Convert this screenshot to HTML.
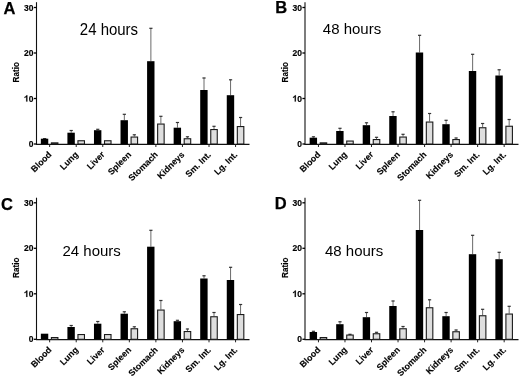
<!DOCTYPE html><html><head><meta charset="utf-8"><style>html,body{margin:0;padding:0;background:#fff;}svg{display:block;will-change:transform;}text{font-family:"Liberation Sans",sans-serif;}</style></head><body>
<svg width="520" height="376" viewBox="0 0 520 376">
<rect width="520" height="376" fill="#fff"/>
<text transform="translate(3.5,14.0) scale(1.0,1.0)" font-size="16.5" font-weight="bold" fill="#000" stroke="#000" stroke-width="0.25">A</text>
<text transform="translate(79.8,35.3) scale(1,1.06)" font-size="15" fill="#000">24 hours</text>
<text transform="translate(19.2,72.3) rotate(-90) scale(1,1.15)" text-anchor="middle" font-size="8.1" font-weight="bold" fill="#000" stroke="#000" stroke-width="0.15">Ratio</text>
<line x1="36.5" y1="2.2" x2="36.5" y2="144.5" stroke="#111" stroke-width="1.1"/>
<line x1="33.9" y1="144.00" x2="36.5" y2="144.00" stroke="#000" stroke-width="1.3"/>
<g transform="translate(33.50,147.10) scale(1.04,1.08)"><text text-anchor="end" font-size="8.2" font-weight="bold" fill="#000" stroke="#000" stroke-width="0.15">0</text></g>
<line x1="33.9" y1="98.50" x2="36.5" y2="98.50" stroke="#000" stroke-width="1.3"/>
<g transform="translate(33.50,101.60) scale(1.04,1.08)"><text text-anchor="end" font-size="8.2" font-weight="bold" fill="#000" stroke="#000" stroke-width="0.15">0</text><path transform="translate(-9.12,0) scale(0.0082,-0.0082)" d="M 394 0 L 394 716 L 287 716 C 265 650 220 610 160 575 C 120 552 85 540 55 532 L 55 412 C 140 440 205 478 257 525 L 257 0 Z" fill="#000" stroke="#000" stroke-width="18"/></g>
<line x1="33.9" y1="53.00" x2="36.5" y2="53.00" stroke="#000" stroke-width="1.3"/>
<g transform="translate(33.50,56.10) scale(1.04,1.08)"><text text-anchor="end" font-size="8.2" font-weight="bold" fill="#000" stroke="#000" stroke-width="0.15">20</text></g>
<line x1="33.9" y1="7.50" x2="36.5" y2="7.50" stroke="#000" stroke-width="1.3"/>
<g transform="translate(33.50,10.60) scale(1.04,1.08)"><text text-anchor="end" font-size="8.2" font-weight="bold" fill="#000" stroke="#000" stroke-width="0.15">30</text></g>
<line x1="35.9" y1="144.3" x2="249.5" y2="144.3" stroke="#111" stroke-width="1.2"/>
<line x1="49.65" y1="144.0" x2="49.65" y2="147.0" stroke="#222" stroke-width="1"/>
<line x1="44.65" y1="138.30" x2="44.65" y2="138.70" stroke="#6a6a6a" stroke-width="1.0"/>
<line x1="43.05" y1="138.60" x2="46.25" y2="138.60" stroke="#333" stroke-width="1.2"/>
<rect x="40.85" y="138.70" width="7.4" height="5.30" fill="#000"/>
<rect x="51.40" y="142.85" width="6.5" height="1.15" fill="#dedede" stroke="#1a1a1a" stroke-width="1.1"/>
<text transform="translate(52.15,155.20) rotate(-45)" text-anchor="end" font-size="8.8" font-weight="bold" fill="#000" stroke="#000" stroke-width="0.12">Blood</text>
<line x1="76.21" y1="144.0" x2="76.21" y2="147.0" stroke="#222" stroke-width="1"/>
<line x1="71.21" y1="130.20" x2="71.21" y2="132.70" stroke="#6a6a6a" stroke-width="1.0"/>
<line x1="69.61" y1="130.50" x2="72.81" y2="130.50" stroke="#333" stroke-width="1.2"/>
<rect x="67.41" y="132.70" width="7.4" height="11.30" fill="#000"/>
<rect x="77.96" y="140.75" width="6.5" height="3.25" fill="#dedede" stroke="#1a1a1a" stroke-width="1.1"/>
<text transform="translate(78.71,155.20) rotate(-45)" text-anchor="end" font-size="8.8" font-weight="bold" fill="#000" stroke="#000" stroke-width="0.12">Lung</text>
<line x1="102.77" y1="144.0" x2="102.77" y2="147.0" stroke="#222" stroke-width="1"/>
<line x1="97.77" y1="129.00" x2="97.77" y2="130.20" stroke="#6a6a6a" stroke-width="1.0"/>
<line x1="96.17" y1="129.30" x2="99.37" y2="129.30" stroke="#333" stroke-width="1.2"/>
<rect x="93.97" y="130.20" width="7.4" height="13.80" fill="#000"/>
<rect x="104.52" y="140.75" width="6.5" height="3.25" fill="#dedede" stroke="#1a1a1a" stroke-width="1.1"/>
<text transform="translate(105.27,155.20) rotate(-45)" text-anchor="end" font-size="8.8" font-weight="bold" fill="#000" stroke="#000" stroke-width="0.12">Liver</text>
<line x1="129.33" y1="144.0" x2="129.33" y2="147.0" stroke="#222" stroke-width="1"/>
<line x1="124.33" y1="114.00" x2="124.33" y2="120.20" stroke="#6a6a6a" stroke-width="1.0"/>
<line x1="122.73" y1="114.30" x2="125.93" y2="114.30" stroke="#333" stroke-width="1.2"/>
<line x1="134.33" y1="134.50" x2="134.33" y2="136.50" stroke="#6a6a6a" stroke-width="1.0"/>
<line x1="132.73" y1="134.80" x2="135.93" y2="134.80" stroke="#333" stroke-width="1.2"/>
<rect x="120.53" y="120.20" width="7.4" height="23.80" fill="#000"/>
<rect x="131.08" y="137.05" width="6.5" height="6.95" fill="#dedede" stroke="#1a1a1a" stroke-width="1.1"/>
<text transform="translate(131.83,155.20) rotate(-45)" text-anchor="end" font-size="8.8" font-weight="bold" fill="#000" stroke="#000" stroke-width="0.12">Spleen</text>
<line x1="155.89" y1="144.0" x2="155.89" y2="147.0" stroke="#222" stroke-width="1"/>
<line x1="150.89" y1="28.00" x2="150.89" y2="61.20" stroke="#6a6a6a" stroke-width="1.0"/>
<line x1="149.29" y1="28.30" x2="152.49" y2="28.30" stroke="#333" stroke-width="1.2"/>
<line x1="160.89" y1="116.00" x2="160.89" y2="123.50" stroke="#6a6a6a" stroke-width="1.0"/>
<line x1="159.29" y1="116.30" x2="162.49" y2="116.30" stroke="#333" stroke-width="1.2"/>
<rect x="147.09" y="61.20" width="7.4" height="82.80" fill="#000"/>
<rect x="157.64" y="124.05" width="6.5" height="19.95" fill="#dedede" stroke="#1a1a1a" stroke-width="1.1"/>
<text transform="translate(158.39,155.20) rotate(-45)" text-anchor="end" font-size="8.8" font-weight="bold" fill="#000" stroke="#000" stroke-width="0.12">Stomach</text>
<line x1="182.45" y1="144.0" x2="182.45" y2="147.0" stroke="#222" stroke-width="1"/>
<line x1="177.45" y1="122.20" x2="177.45" y2="127.70" stroke="#6a6a6a" stroke-width="1.0"/>
<line x1="175.85" y1="122.50" x2="179.05" y2="122.50" stroke="#333" stroke-width="1.2"/>
<line x1="187.45" y1="136.50" x2="187.45" y2="138.20" stroke="#6a6a6a" stroke-width="1.0"/>
<line x1="185.85" y1="136.80" x2="189.05" y2="136.80" stroke="#333" stroke-width="1.2"/>
<rect x="173.65" y="127.70" width="7.4" height="16.30" fill="#000"/>
<rect x="184.20" y="138.75" width="6.5" height="5.25" fill="#dedede" stroke="#1a1a1a" stroke-width="1.1"/>
<text transform="translate(184.95,155.20) rotate(-45)" text-anchor="end" font-size="8.8" font-weight="bold" fill="#000" stroke="#000" stroke-width="0.12">Kidneys</text>
<line x1="209.01" y1="144.0" x2="209.01" y2="147.0" stroke="#222" stroke-width="1"/>
<line x1="204.01" y1="77.70" x2="204.01" y2="90.00" stroke="#6a6a6a" stroke-width="1.0"/>
<line x1="202.41" y1="78.00" x2="205.61" y2="78.00" stroke="#333" stroke-width="1.2"/>
<line x1="214.01" y1="126.00" x2="214.01" y2="129.00" stroke="#6a6a6a" stroke-width="1.0"/>
<line x1="212.41" y1="126.30" x2="215.61" y2="126.30" stroke="#333" stroke-width="1.2"/>
<rect x="200.21" y="90.00" width="7.4" height="54.00" fill="#000"/>
<rect x="210.76" y="129.55" width="6.5" height="14.45" fill="#dedede" stroke="#1a1a1a" stroke-width="1.1"/>
<text transform="translate(211.51,155.20) rotate(-45)" text-anchor="end" font-size="8.8" font-weight="bold" fill="#000" stroke="#000" stroke-width="0.12">Sm. Int.</text>
<line x1="235.57" y1="144.0" x2="235.57" y2="147.0" stroke="#222" stroke-width="1"/>
<line x1="230.57" y1="79.50" x2="230.57" y2="95.20" stroke="#6a6a6a" stroke-width="1.0"/>
<line x1="228.97" y1="79.80" x2="232.17" y2="79.80" stroke="#333" stroke-width="1.2"/>
<line x1="240.57" y1="117.20" x2="240.57" y2="126.00" stroke="#6a6a6a" stroke-width="1.0"/>
<line x1="238.97" y1="117.50" x2="242.17" y2="117.50" stroke="#333" stroke-width="1.2"/>
<rect x="226.77" y="95.20" width="7.4" height="48.80" fill="#000"/>
<rect x="237.32" y="126.55" width="6.5" height="17.45" fill="#dedede" stroke="#1a1a1a" stroke-width="1.1"/>
<text transform="translate(238.07,155.20) rotate(-45)" text-anchor="end" font-size="8.8" font-weight="bold" fill="#000" stroke="#000" stroke-width="0.12">Lg. Int.</text>
<text transform="translate(275.2,13.3) scale(1.0,1.0)" font-size="16.5" font-weight="bold" fill="#000" stroke="#000" stroke-width="0.25">B</text>
<text transform="translate(322.8,33.9) scale(1,1.02)" font-size="15" fill="#000">48 hours</text>
<text transform="translate(288.2,72.3) rotate(-90) scale(1,1.15)" text-anchor="middle" font-size="8.1" font-weight="bold" fill="#000" stroke="#000" stroke-width="0.15">Ratio</text>
<line x1="305.0" y1="2.2" x2="305.0" y2="144.5" stroke="#111" stroke-width="1.1"/>
<line x1="302.4" y1="144.00" x2="305.0" y2="144.00" stroke="#000" stroke-width="1.3"/>
<g transform="translate(302.00,147.10) scale(1.04,1.08)"><text text-anchor="end" font-size="8.2" font-weight="bold" fill="#000" stroke="#000" stroke-width="0.15">0</text></g>
<line x1="302.4" y1="98.50" x2="305.0" y2="98.50" stroke="#000" stroke-width="1.3"/>
<g transform="translate(302.00,101.60) scale(1.04,1.08)"><text text-anchor="end" font-size="8.2" font-weight="bold" fill="#000" stroke="#000" stroke-width="0.15">0</text><path transform="translate(-9.12,0) scale(0.0082,-0.0082)" d="M 394 0 L 394 716 L 287 716 C 265 650 220 610 160 575 C 120 552 85 540 55 532 L 55 412 C 140 440 205 478 257 525 L 257 0 Z" fill="#000" stroke="#000" stroke-width="18"/></g>
<line x1="302.4" y1="53.00" x2="305.0" y2="53.00" stroke="#000" stroke-width="1.3"/>
<g transform="translate(302.00,56.10) scale(1.04,1.08)"><text text-anchor="end" font-size="8.2" font-weight="bold" fill="#000" stroke="#000" stroke-width="0.15">20</text></g>
<line x1="302.4" y1="7.50" x2="305.0" y2="7.50" stroke="#000" stroke-width="1.3"/>
<g transform="translate(302.00,10.60) scale(1.04,1.08)"><text text-anchor="end" font-size="8.2" font-weight="bold" fill="#000" stroke="#000" stroke-width="0.15">30</text></g>
<line x1="304.4" y1="144.3" x2="518.5" y2="144.3" stroke="#111" stroke-width="1.2"/>
<line x1="318.45" y1="144.0" x2="318.45" y2="147.0" stroke="#222" stroke-width="1"/>
<line x1="313.45" y1="136.50" x2="313.45" y2="137.70" stroke="#6a6a6a" stroke-width="1.0"/>
<line x1="311.85" y1="136.80" x2="315.05" y2="136.80" stroke="#333" stroke-width="1.2"/>
<rect x="309.65" y="137.70" width="7.4" height="6.30" fill="#000"/>
<rect x="320.20" y="142.85" width="6.5" height="1.15" fill="#dedede" stroke="#1a1a1a" stroke-width="1.1"/>
<text transform="translate(320.95,155.20) rotate(-45)" text-anchor="end" font-size="8.8" font-weight="bold" fill="#000" stroke="#000" stroke-width="0.12">Blood</text>
<line x1="344.98" y1="144.0" x2="344.98" y2="147.0" stroke="#222" stroke-width="1"/>
<line x1="339.98" y1="128.00" x2="339.98" y2="131.00" stroke="#6a6a6a" stroke-width="1.0"/>
<line x1="338.38" y1="128.30" x2="341.58" y2="128.30" stroke="#333" stroke-width="1.2"/>
<rect x="336.18" y="131.00" width="7.4" height="13.00" fill="#000"/>
<rect x="346.73" y="141.05" width="6.5" height="2.95" fill="#dedede" stroke="#1a1a1a" stroke-width="1.1"/>
<text transform="translate(347.48,155.20) rotate(-45)" text-anchor="end" font-size="8.8" font-weight="bold" fill="#000" stroke="#000" stroke-width="0.12">Lung</text>
<line x1="371.51" y1="144.0" x2="371.51" y2="147.0" stroke="#222" stroke-width="1"/>
<line x1="366.51" y1="122.50" x2="366.51" y2="125.20" stroke="#6a6a6a" stroke-width="1.0"/>
<line x1="364.91" y1="122.80" x2="368.11" y2="122.80" stroke="#333" stroke-width="1.2"/>
<line x1="376.51" y1="137.00" x2="376.51" y2="139.00" stroke="#6a6a6a" stroke-width="1.0"/>
<line x1="374.91" y1="137.30" x2="378.11" y2="137.30" stroke="#333" stroke-width="1.2"/>
<rect x="362.71" y="125.20" width="7.4" height="18.80" fill="#000"/>
<rect x="373.26" y="139.55" width="6.5" height="4.45" fill="#dedede" stroke="#1a1a1a" stroke-width="1.1"/>
<text transform="translate(374.01,155.20) rotate(-45)" text-anchor="end" font-size="8.8" font-weight="bold" fill="#000" stroke="#000" stroke-width="0.12">Liver</text>
<line x1="398.04" y1="144.0" x2="398.04" y2="147.0" stroke="#222" stroke-width="1"/>
<line x1="393.04" y1="111.50" x2="393.04" y2="116.00" stroke="#6a6a6a" stroke-width="1.0"/>
<line x1="391.44" y1="111.80" x2="394.64" y2="111.80" stroke="#333" stroke-width="1.2"/>
<line x1="403.04" y1="134.00" x2="403.04" y2="136.50" stroke="#6a6a6a" stroke-width="1.0"/>
<line x1="401.44" y1="134.30" x2="404.64" y2="134.30" stroke="#333" stroke-width="1.2"/>
<rect x="389.24" y="116.00" width="7.4" height="28.00" fill="#000"/>
<rect x="399.79" y="137.05" width="6.5" height="6.95" fill="#dedede" stroke="#1a1a1a" stroke-width="1.1"/>
<text transform="translate(400.54,155.20) rotate(-45)" text-anchor="end" font-size="8.8" font-weight="bold" fill="#000" stroke="#000" stroke-width="0.12">Spleen</text>
<line x1="424.57" y1="144.0" x2="424.57" y2="147.0" stroke="#222" stroke-width="1"/>
<line x1="419.57" y1="35.00" x2="419.57" y2="52.50" stroke="#6a6a6a" stroke-width="1.0"/>
<line x1="417.97" y1="35.30" x2="421.17" y2="35.30" stroke="#333" stroke-width="1.2"/>
<line x1="429.57" y1="113.20" x2="429.57" y2="121.50" stroke="#6a6a6a" stroke-width="1.0"/>
<line x1="427.97" y1="113.50" x2="431.17" y2="113.50" stroke="#333" stroke-width="1.2"/>
<rect x="415.77" y="52.50" width="7.4" height="91.50" fill="#000"/>
<rect x="426.32" y="122.05" width="6.5" height="21.95" fill="#dedede" stroke="#1a1a1a" stroke-width="1.1"/>
<text transform="translate(427.07,155.20) rotate(-45)" text-anchor="end" font-size="8.8" font-weight="bold" fill="#000" stroke="#000" stroke-width="0.12">Stomach</text>
<line x1="451.10" y1="144.0" x2="451.10" y2="147.0" stroke="#222" stroke-width="1"/>
<line x1="446.10" y1="120.00" x2="446.10" y2="124.20" stroke="#6a6a6a" stroke-width="1.0"/>
<line x1="444.50" y1="120.30" x2="447.70" y2="120.30" stroke="#333" stroke-width="1.2"/>
<line x1="456.10" y1="137.70" x2="456.10" y2="139.00" stroke="#6a6a6a" stroke-width="1.0"/>
<line x1="454.50" y1="138.00" x2="457.70" y2="138.00" stroke="#333" stroke-width="1.2"/>
<rect x="442.30" y="124.20" width="7.4" height="19.80" fill="#000"/>
<rect x="452.85" y="139.55" width="6.5" height="4.45" fill="#dedede" stroke="#1a1a1a" stroke-width="1.1"/>
<text transform="translate(453.60,155.20) rotate(-45)" text-anchor="end" font-size="8.8" font-weight="bold" fill="#000" stroke="#000" stroke-width="0.12">Kidneys</text>
<line x1="477.63" y1="144.0" x2="477.63" y2="147.0" stroke="#222" stroke-width="1"/>
<line x1="472.63" y1="54.00" x2="472.63" y2="71.00" stroke="#6a6a6a" stroke-width="1.0"/>
<line x1="471.03" y1="54.30" x2="474.23" y2="54.30" stroke="#333" stroke-width="1.2"/>
<line x1="482.63" y1="123.20" x2="482.63" y2="127.20" stroke="#6a6a6a" stroke-width="1.0"/>
<line x1="481.03" y1="123.50" x2="484.23" y2="123.50" stroke="#333" stroke-width="1.2"/>
<rect x="468.83" y="71.00" width="7.4" height="73.00" fill="#000"/>
<rect x="479.38" y="127.75" width="6.5" height="16.25" fill="#dedede" stroke="#1a1a1a" stroke-width="1.1"/>
<text transform="translate(480.13,155.20) rotate(-45)" text-anchor="end" font-size="8.8" font-weight="bold" fill="#000" stroke="#000" stroke-width="0.12">Sm. Int.</text>
<line x1="504.16" y1="144.0" x2="504.16" y2="147.0" stroke="#222" stroke-width="1"/>
<line x1="499.16" y1="69.50" x2="499.16" y2="75.50" stroke="#6a6a6a" stroke-width="1.0"/>
<line x1="497.56" y1="69.80" x2="500.76" y2="69.80" stroke="#333" stroke-width="1.2"/>
<line x1="509.16" y1="119.20" x2="509.16" y2="125.70" stroke="#6a6a6a" stroke-width="1.0"/>
<line x1="507.56" y1="119.50" x2="510.76" y2="119.50" stroke="#333" stroke-width="1.2"/>
<rect x="495.36" y="75.50" width="7.4" height="68.50" fill="#000"/>
<rect x="505.91" y="126.25" width="6.5" height="17.75" fill="#dedede" stroke="#1a1a1a" stroke-width="1.1"/>
<text transform="translate(506.66,155.20) rotate(-45)" text-anchor="end" font-size="8.8" font-weight="bold" fill="#000" stroke="#000" stroke-width="0.12">Lg. Int.</text>
<text transform="translate(1.1,209.5) scale(1.0,1.0)" font-size="16.5" font-weight="bold" fill="#000" stroke="#000" stroke-width="0.25">C</text>
<text transform="translate(62.5,255.6) scale(1,1.02)" font-size="15" fill="#000">24 hours</text>
<text transform="translate(19.2,267.8) rotate(-90) scale(1,1.15)" text-anchor="middle" font-size="8.1" font-weight="bold" fill="#000" stroke="#000" stroke-width="0.15">Ratio</text>
<line x1="36.5" y1="197.7" x2="36.5" y2="339.8" stroke="#111" stroke-width="1.1"/>
<line x1="33.9" y1="339.30" x2="36.5" y2="339.30" stroke="#000" stroke-width="1.3"/>
<g transform="translate(33.50,342.40) scale(1.04,1.08)"><text text-anchor="end" font-size="8.2" font-weight="bold" fill="#000" stroke="#000" stroke-width="0.15">0</text></g>
<line x1="33.9" y1="293.80" x2="36.5" y2="293.80" stroke="#000" stroke-width="1.3"/>
<g transform="translate(33.50,296.90) scale(1.04,1.08)"><text text-anchor="end" font-size="8.2" font-weight="bold" fill="#000" stroke="#000" stroke-width="0.15">0</text><path transform="translate(-9.12,0) scale(0.0082,-0.0082)" d="M 394 0 L 394 716 L 287 716 C 265 650 220 610 160 575 C 120 552 85 540 55 532 L 55 412 C 140 440 205 478 257 525 L 257 0 Z" fill="#000" stroke="#000" stroke-width="18"/></g>
<line x1="33.9" y1="248.30" x2="36.5" y2="248.30" stroke="#000" stroke-width="1.3"/>
<g transform="translate(33.50,251.40) scale(1.04,1.08)"><text text-anchor="end" font-size="8.2" font-weight="bold" fill="#000" stroke="#000" stroke-width="0.15">20</text></g>
<line x1="33.9" y1="202.80" x2="36.5" y2="202.80" stroke="#000" stroke-width="1.3"/>
<g transform="translate(33.50,205.90) scale(1.04,1.08)"><text text-anchor="end" font-size="8.2" font-weight="bold" fill="#000" stroke="#000" stroke-width="0.15">30</text></g>
<line x1="35.9" y1="339.6" x2="249.5" y2="339.6" stroke="#111" stroke-width="1.2"/>
<line x1="49.65" y1="339.3" x2="49.65" y2="342.3" stroke="#222" stroke-width="1"/>
<rect x="40.85" y="333.70" width="7.4" height="5.60" fill="#000"/>
<rect x="51.40" y="337.55" width="6.5" height="1.75" fill="#dedede" stroke="#1a1a1a" stroke-width="1.1"/>
<text transform="translate(52.15,350.50) rotate(-45)" text-anchor="end" font-size="8.8" font-weight="bold" fill="#000" stroke="#000" stroke-width="0.12">Blood</text>
<line x1="76.21" y1="339.3" x2="76.21" y2="342.3" stroke="#222" stroke-width="1"/>
<line x1="71.21" y1="325.20" x2="71.21" y2="327.00" stroke="#6a6a6a" stroke-width="1.0"/>
<line x1="69.61" y1="325.50" x2="72.81" y2="325.50" stroke="#333" stroke-width="1.2"/>
<rect x="67.41" y="327.00" width="7.4" height="12.30" fill="#000"/>
<rect x="77.96" y="334.55" width="6.5" height="4.75" fill="#dedede" stroke="#1a1a1a" stroke-width="1.1"/>
<text transform="translate(78.71,350.50) rotate(-45)" text-anchor="end" font-size="8.8" font-weight="bold" fill="#000" stroke="#000" stroke-width="0.12">Lung</text>
<line x1="102.77" y1="339.3" x2="102.77" y2="342.3" stroke="#222" stroke-width="1"/>
<line x1="97.77" y1="321.20" x2="97.77" y2="323.70" stroke="#6a6a6a" stroke-width="1.0"/>
<line x1="96.17" y1="321.50" x2="99.37" y2="321.50" stroke="#333" stroke-width="1.2"/>
<rect x="93.97" y="323.70" width="7.4" height="15.60" fill="#000"/>
<rect x="104.52" y="334.55" width="6.5" height="4.75" fill="#dedede" stroke="#1a1a1a" stroke-width="1.1"/>
<text transform="translate(105.27,350.50) rotate(-45)" text-anchor="end" font-size="8.8" font-weight="bold" fill="#000" stroke="#000" stroke-width="0.12">Liver</text>
<line x1="129.33" y1="339.3" x2="129.33" y2="342.3" stroke="#222" stroke-width="1"/>
<line x1="124.33" y1="311.50" x2="124.33" y2="313.70" stroke="#6a6a6a" stroke-width="1.0"/>
<line x1="122.73" y1="311.80" x2="125.93" y2="311.80" stroke="#333" stroke-width="1.2"/>
<line x1="134.33" y1="326.50" x2="134.33" y2="328.20" stroke="#6a6a6a" stroke-width="1.0"/>
<line x1="132.73" y1="326.80" x2="135.93" y2="326.80" stroke="#333" stroke-width="1.2"/>
<rect x="120.53" y="313.70" width="7.4" height="25.60" fill="#000"/>
<rect x="131.08" y="328.75" width="6.5" height="10.55" fill="#dedede" stroke="#1a1a1a" stroke-width="1.1"/>
<text transform="translate(131.83,350.50) rotate(-45)" text-anchor="end" font-size="8.8" font-weight="bold" fill="#000" stroke="#000" stroke-width="0.12">Spleen</text>
<line x1="155.89" y1="339.3" x2="155.89" y2="342.3" stroke="#222" stroke-width="1"/>
<line x1="150.89" y1="230.00" x2="150.89" y2="246.70" stroke="#6a6a6a" stroke-width="1.0"/>
<line x1="149.29" y1="230.30" x2="152.49" y2="230.30" stroke="#333" stroke-width="1.2"/>
<line x1="160.89" y1="300.20" x2="160.89" y2="309.50" stroke="#6a6a6a" stroke-width="1.0"/>
<line x1="159.29" y1="300.50" x2="162.49" y2="300.50" stroke="#333" stroke-width="1.2"/>
<rect x="147.09" y="246.70" width="7.4" height="92.60" fill="#000"/>
<rect x="157.64" y="310.05" width="6.5" height="29.25" fill="#dedede" stroke="#1a1a1a" stroke-width="1.1"/>
<text transform="translate(158.39,350.50) rotate(-45)" text-anchor="end" font-size="8.8" font-weight="bold" fill="#000" stroke="#000" stroke-width="0.12">Stomach</text>
<line x1="182.45" y1="339.3" x2="182.45" y2="342.3" stroke="#222" stroke-width="1"/>
<line x1="177.45" y1="320.00" x2="177.45" y2="321.20" stroke="#6a6a6a" stroke-width="1.0"/>
<line x1="175.85" y1="320.30" x2="179.05" y2="320.30" stroke="#333" stroke-width="1.2"/>
<line x1="187.45" y1="328.70" x2="187.45" y2="331.00" stroke="#6a6a6a" stroke-width="1.0"/>
<line x1="185.85" y1="329.00" x2="189.05" y2="329.00" stroke="#333" stroke-width="1.2"/>
<rect x="173.65" y="321.20" width="7.4" height="18.10" fill="#000"/>
<rect x="184.20" y="331.55" width="6.5" height="7.75" fill="#dedede" stroke="#1a1a1a" stroke-width="1.1"/>
<text transform="translate(184.95,350.50) rotate(-45)" text-anchor="end" font-size="8.8" font-weight="bold" fill="#000" stroke="#000" stroke-width="0.12">Kidneys</text>
<line x1="209.01" y1="339.3" x2="209.01" y2="342.3" stroke="#222" stroke-width="1"/>
<line x1="204.01" y1="275.50" x2="204.01" y2="278.50" stroke="#6a6a6a" stroke-width="1.0"/>
<line x1="202.41" y1="275.80" x2="205.61" y2="275.80" stroke="#333" stroke-width="1.2"/>
<line x1="214.01" y1="312.20" x2="214.01" y2="316.20" stroke="#6a6a6a" stroke-width="1.0"/>
<line x1="212.41" y1="312.50" x2="215.61" y2="312.50" stroke="#333" stroke-width="1.2"/>
<rect x="200.21" y="278.50" width="7.4" height="60.80" fill="#000"/>
<rect x="210.76" y="316.75" width="6.5" height="22.55" fill="#dedede" stroke="#1a1a1a" stroke-width="1.1"/>
<text transform="translate(211.51,350.50) rotate(-45)" text-anchor="end" font-size="8.8" font-weight="bold" fill="#000" stroke="#000" stroke-width="0.12">Sm. Int.</text>
<line x1="235.57" y1="339.3" x2="235.57" y2="342.3" stroke="#222" stroke-width="1"/>
<line x1="230.57" y1="267.00" x2="230.57" y2="280.00" stroke="#6a6a6a" stroke-width="1.0"/>
<line x1="228.97" y1="267.30" x2="232.17" y2="267.30" stroke="#333" stroke-width="1.2"/>
<line x1="240.57" y1="304.20" x2="240.57" y2="314.00" stroke="#6a6a6a" stroke-width="1.0"/>
<line x1="238.97" y1="304.50" x2="242.17" y2="304.50" stroke="#333" stroke-width="1.2"/>
<rect x="226.77" y="280.00" width="7.4" height="59.30" fill="#000"/>
<rect x="237.32" y="314.55" width="6.5" height="24.75" fill="#dedede" stroke="#1a1a1a" stroke-width="1.1"/>
<text transform="translate(238.07,350.50) rotate(-45)" text-anchor="end" font-size="8.8" font-weight="bold" fill="#000" stroke="#000" stroke-width="0.12">Lg. Int.</text>
<text transform="translate(274.7,209.1) scale(1.0,1.0)" font-size="16.5" font-weight="bold" fill="#000" stroke="#000" stroke-width="0.25">D</text>
<text transform="translate(325.0,256.2) scale(1,1.02)" font-size="15" fill="#000">48 hours</text>
<text transform="translate(288.2,267.8) rotate(-90) scale(1,1.15)" text-anchor="middle" font-size="8.1" font-weight="bold" fill="#000" stroke="#000" stroke-width="0.15">Ratio</text>
<line x1="305.0" y1="197.7" x2="305.0" y2="339.8" stroke="#111" stroke-width="1.1"/>
<line x1="302.4" y1="339.30" x2="305.0" y2="339.30" stroke="#000" stroke-width="1.3"/>
<g transform="translate(302.00,342.40) scale(1.04,1.08)"><text text-anchor="end" font-size="8.2" font-weight="bold" fill="#000" stroke="#000" stroke-width="0.15">0</text></g>
<line x1="302.4" y1="293.80" x2="305.0" y2="293.80" stroke="#000" stroke-width="1.3"/>
<g transform="translate(302.00,296.90) scale(1.04,1.08)"><text text-anchor="end" font-size="8.2" font-weight="bold" fill="#000" stroke="#000" stroke-width="0.15">0</text><path transform="translate(-9.12,0) scale(0.0082,-0.0082)" d="M 394 0 L 394 716 L 287 716 C 265 650 220 610 160 575 C 120 552 85 540 55 532 L 55 412 C 140 440 205 478 257 525 L 257 0 Z" fill="#000" stroke="#000" stroke-width="18"/></g>
<line x1="302.4" y1="248.30" x2="305.0" y2="248.30" stroke="#000" stroke-width="1.3"/>
<g transform="translate(302.00,251.40) scale(1.04,1.08)"><text text-anchor="end" font-size="8.2" font-weight="bold" fill="#000" stroke="#000" stroke-width="0.15">20</text></g>
<line x1="302.4" y1="202.80" x2="305.0" y2="202.80" stroke="#000" stroke-width="1.3"/>
<g transform="translate(302.00,205.90) scale(1.04,1.08)"><text text-anchor="end" font-size="8.2" font-weight="bold" fill="#000" stroke="#000" stroke-width="0.15">30</text></g>
<line x1="304.4" y1="339.6" x2="518.5" y2="339.6" stroke="#111" stroke-width="1.2"/>
<line x1="318.45" y1="339.3" x2="318.45" y2="342.3" stroke="#222" stroke-width="1"/>
<line x1="313.45" y1="331.00" x2="313.45" y2="332.00" stroke="#6a6a6a" stroke-width="1.0"/>
<line x1="311.85" y1="331.30" x2="315.05" y2="331.30" stroke="#333" stroke-width="1.2"/>
<rect x="309.65" y="332.00" width="7.4" height="7.30" fill="#000"/>
<rect x="320.20" y="337.55" width="6.5" height="1.75" fill="#dedede" stroke="#1a1a1a" stroke-width="1.1"/>
<text transform="translate(320.95,350.50) rotate(-45)" text-anchor="end" font-size="8.8" font-weight="bold" fill="#000" stroke="#000" stroke-width="0.12">Blood</text>
<line x1="344.98" y1="339.3" x2="344.98" y2="342.3" stroke="#222" stroke-width="1"/>
<line x1="339.98" y1="321.50" x2="339.98" y2="324.20" stroke="#6a6a6a" stroke-width="1.0"/>
<line x1="338.38" y1="321.80" x2="341.58" y2="321.80" stroke="#333" stroke-width="1.2"/>
<line x1="349.98" y1="334.00" x2="349.98" y2="334.50" stroke="#6a6a6a" stroke-width="1.0"/>
<line x1="348.38" y1="334.30" x2="351.58" y2="334.30" stroke="#333" stroke-width="1.2"/>
<rect x="336.18" y="324.20" width="7.4" height="15.10" fill="#000"/>
<rect x="346.73" y="335.05" width="6.5" height="4.25" fill="#dedede" stroke="#1a1a1a" stroke-width="1.1"/>
<text transform="translate(347.48,350.50) rotate(-45)" text-anchor="end" font-size="8.8" font-weight="bold" fill="#000" stroke="#000" stroke-width="0.12">Lung</text>
<line x1="371.51" y1="339.3" x2="371.51" y2="342.3" stroke="#222" stroke-width="1"/>
<line x1="366.51" y1="312.20" x2="366.51" y2="317.20" stroke="#6a6a6a" stroke-width="1.0"/>
<line x1="364.91" y1="312.50" x2="368.11" y2="312.50" stroke="#333" stroke-width="1.2"/>
<line x1="376.51" y1="332.00" x2="376.51" y2="333.20" stroke="#6a6a6a" stroke-width="1.0"/>
<line x1="374.91" y1="332.30" x2="378.11" y2="332.30" stroke="#333" stroke-width="1.2"/>
<rect x="362.71" y="317.20" width="7.4" height="22.10" fill="#000"/>
<rect x="373.26" y="333.75" width="6.5" height="5.55" fill="#dedede" stroke="#1a1a1a" stroke-width="1.1"/>
<text transform="translate(374.01,350.50) rotate(-45)" text-anchor="end" font-size="8.8" font-weight="bold" fill="#000" stroke="#000" stroke-width="0.12">Liver</text>
<line x1="398.04" y1="339.3" x2="398.04" y2="342.3" stroke="#222" stroke-width="1"/>
<line x1="393.04" y1="300.70" x2="393.04" y2="306.00" stroke="#6a6a6a" stroke-width="1.0"/>
<line x1="391.44" y1="301.00" x2="394.64" y2="301.00" stroke="#333" stroke-width="1.2"/>
<line x1="403.04" y1="326.20" x2="403.04" y2="328.20" stroke="#6a6a6a" stroke-width="1.0"/>
<line x1="401.44" y1="326.50" x2="404.64" y2="326.50" stroke="#333" stroke-width="1.2"/>
<rect x="389.24" y="306.00" width="7.4" height="33.30" fill="#000"/>
<rect x="399.79" y="328.75" width="6.5" height="10.55" fill="#dedede" stroke="#1a1a1a" stroke-width="1.1"/>
<text transform="translate(400.54,350.50) rotate(-45)" text-anchor="end" font-size="8.8" font-weight="bold" fill="#000" stroke="#000" stroke-width="0.12">Spleen</text>
<line x1="424.57" y1="339.3" x2="424.57" y2="342.3" stroke="#222" stroke-width="1"/>
<line x1="419.57" y1="200.00" x2="419.57" y2="230.00" stroke="#6a6a6a" stroke-width="1.0"/>
<line x1="417.97" y1="200.30" x2="421.17" y2="200.30" stroke="#333" stroke-width="1.2"/>
<line x1="429.57" y1="299.50" x2="429.57" y2="307.20" stroke="#6a6a6a" stroke-width="1.0"/>
<line x1="427.97" y1="299.80" x2="431.17" y2="299.80" stroke="#333" stroke-width="1.2"/>
<rect x="415.77" y="230.00" width="7.4" height="109.30" fill="#000"/>
<rect x="426.32" y="307.75" width="6.5" height="31.55" fill="#dedede" stroke="#1a1a1a" stroke-width="1.1"/>
<text transform="translate(427.07,350.50) rotate(-45)" text-anchor="end" font-size="8.8" font-weight="bold" fill="#000" stroke="#000" stroke-width="0.12">Stomach</text>
<line x1="451.10" y1="339.3" x2="451.10" y2="342.3" stroke="#222" stroke-width="1"/>
<line x1="446.10" y1="312.20" x2="446.10" y2="316.20" stroke="#6a6a6a" stroke-width="1.0"/>
<line x1="444.50" y1="312.50" x2="447.70" y2="312.50" stroke="#333" stroke-width="1.2"/>
<line x1="456.10" y1="329.70" x2="456.10" y2="331.20" stroke="#6a6a6a" stroke-width="1.0"/>
<line x1="454.50" y1="330.00" x2="457.70" y2="330.00" stroke="#333" stroke-width="1.2"/>
<rect x="442.30" y="316.20" width="7.4" height="23.10" fill="#000"/>
<rect x="452.85" y="331.75" width="6.5" height="7.55" fill="#dedede" stroke="#1a1a1a" stroke-width="1.1"/>
<text transform="translate(453.60,350.50) rotate(-45)" text-anchor="end" font-size="8.8" font-weight="bold" fill="#000" stroke="#000" stroke-width="0.12">Kidneys</text>
<line x1="477.63" y1="339.3" x2="477.63" y2="342.3" stroke="#222" stroke-width="1"/>
<line x1="472.63" y1="235.00" x2="472.63" y2="254.20" stroke="#6a6a6a" stroke-width="1.0"/>
<line x1="471.03" y1="235.30" x2="474.23" y2="235.30" stroke="#333" stroke-width="1.2"/>
<line x1="482.63" y1="309.00" x2="482.63" y2="315.20" stroke="#6a6a6a" stroke-width="1.0"/>
<line x1="481.03" y1="309.30" x2="484.23" y2="309.30" stroke="#333" stroke-width="1.2"/>
<rect x="468.83" y="254.20" width="7.4" height="85.10" fill="#000"/>
<rect x="479.38" y="315.75" width="6.5" height="23.55" fill="#dedede" stroke="#1a1a1a" stroke-width="1.1"/>
<text transform="translate(480.13,350.50) rotate(-45)" text-anchor="end" font-size="8.8" font-weight="bold" fill="#000" stroke="#000" stroke-width="0.12">Sm. Int.</text>
<line x1="504.16" y1="339.3" x2="504.16" y2="342.3" stroke="#222" stroke-width="1"/>
<line x1="499.16" y1="252.00" x2="499.16" y2="259.20" stroke="#6a6a6a" stroke-width="1.0"/>
<line x1="497.56" y1="252.30" x2="500.76" y2="252.30" stroke="#333" stroke-width="1.2"/>
<line x1="509.16" y1="306.00" x2="509.16" y2="313.50" stroke="#6a6a6a" stroke-width="1.0"/>
<line x1="507.56" y1="306.30" x2="510.76" y2="306.30" stroke="#333" stroke-width="1.2"/>
<rect x="495.36" y="259.20" width="7.4" height="80.10" fill="#000"/>
<rect x="505.91" y="314.05" width="6.5" height="25.25" fill="#dedede" stroke="#1a1a1a" stroke-width="1.1"/>
<text transform="translate(506.66,350.50) rotate(-45)" text-anchor="end" font-size="8.8" font-weight="bold" fill="#000" stroke="#000" stroke-width="0.12">Lg. Int.</text>
</svg></body></html>
